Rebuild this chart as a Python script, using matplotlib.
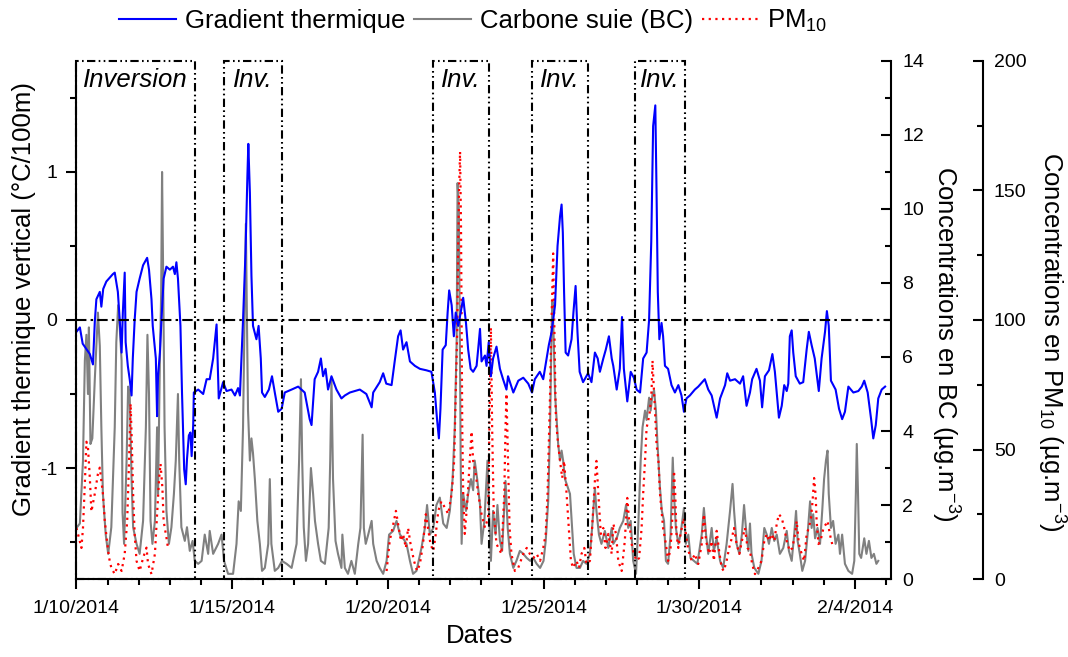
import numpy as np
import matplotlib
matplotlib.use("Agg")
import matplotlib.pyplot as plt
import matplotlib.dates as mdates
from matplotlib.patches import Rectangle
from matplotlib.ticker import MultipleLocator, FixedLocator

plt.rcParams['font.family'] = ['Liberation Sans', 'DejaVu Sans']
plt.rcParams['mathtext.fontset'] = 'custom'
plt.rcParams['mathtext.rm'] = 'Liberation Sans'
plt.rcParams['mathtext.it'] = 'Liberation Sans:italic'
plt.rcParams['axes.unicode_minus'] = False

# temps en jours depuis le 10/01/2014 00h
grad_t = [0.00, 0.11, 0.20, 0.43, 0.53, 0.59, 0.64, 0.75, 0.80, 0.86,
          0.96, 1.17, 1.23, 1.33, 1.39, 1.45, 1.49, 1.55, 1.58, 1.65,
          1.71, 1.77, 1.81, 1.87, 1.93, 2.03, 2.14, 2.27, 2.33, 2.41,
          2.45, 2.55, 2.59, 2.62, 2.68, 2.73, 2.80, 2.89, 3.00, 3.10,
          3.16, 3.21, 3.26, 3.34, 3.39, 3.46, 3.51, 3.55, 3.61, 3.66,
          3.70, 3.75, 3.77, 3.91, 4.07, 4.18, 4.28, 4.39, 4.50, 4.57,
          4.71, 4.82, 4.98, 5.09, 5.19, 5.25, 5.30, 5.35, 5.43, 5.49,
          5.52, 5.57, 5.62, 5.67, 5.78, 5.85, 5.92, 5.96, 6.05, 6.18,
          6.28, 6.37, 6.48, 6.59, 6.69, 6.91, 7.12, 7.33, 7.49, 7.55,
          7.65, 7.76, 7.85, 7.92, 8.00, 8.08, 8.19, 8.35, 8.51, 8.62,
          8.78, 9.10, 9.31, 9.48, 9.53, 9.74, 9.85, 9.95, 10.12, 10.22,
          10.33, 10.41, 10.49, 10.60, 10.71, 10.87, 11.03, 11.24, 11.40, 11.51,
          11.58, 11.64, 11.69, 11.76, 11.86, 11.92, 11.97, 12.05, 12.12, 12.18,
          12.26, 12.34, 12.42, 12.51, 12.58, 12.66, 12.74, 12.85, 12.90, 12.96,
          13.01, 13.12, 13.17, 13.24, 13.31, 13.38, 13.49, 13.60, 13.70, 13.81,
          13.86, 14.03, 14.19, 14.35, 14.51, 14.63, 14.72, 14.88, 14.99, 15.10,
          15.17, 15.26, 15.37, 15.45, 15.53, 15.58, 15.62, 15.66, 15.71, 15.79,
          15.90, 15.96, 16.03, 16.09, 16.16, 16.27, 16.43, 16.54, 16.65, 16.74,
          16.81, 16.92, 17.00, 17.10, 17.19, 17.24, 17.35, 17.45, 17.52, 17.58,
          17.69, 17.80, 17.90, 17.99, 18.10, 18.20, 18.31, 18.39, 18.46, 18.52,
          18.59, 18.63, 18.67, 18.72, 18.79, 18.84, 18.90, 19.00, 19.11, 19.22,
          19.33, 19.43, 19.51, 19.59, 19.70, 19.86, 19.97, 20.18, 20.29, 20.40,
          20.56, 20.67, 20.83, 20.90, 20.99, 21.15, 21.31, 21.41, 21.52, 21.63,
          21.70, 21.84, 21.95, 22.02, 22.11, 22.24, 22.35, 22.43, 22.49, 22.56,
          22.65, 22.73, 22.81, 22.86, 22.91, 22.97, 23.02, 23.10, 23.23, 23.34,
          23.45, 23.52, 23.61, 23.71, 23.84, 23.93, 24.04, 24.10, 24.16, 24.23,
          24.38, 24.49, 24.59, 24.68, 24.79, 24.95, 25.11, 25.22, 25.30, 25.41,
          25.52, 25.59, 25.67, 25.75, 25.86, 25.97]
grad_v = [-0.08, -0.05, -0.16, -0.23, -0.30, -0.01, 0.14, 0.19, 0.09, 0.21,
          0.26, 0.31, 0.32, 0.19, 0.00, -0.22, 0.05, 0.32, -0.15, -0.31,
          -0.40, -0.51, -0.26, 0.00, 0.19, 0.28, 0.37, 0.42, 0.34, 0.14,
          -0.04, -0.26, -0.65, -0.38, -0.22, 0.00, 0.28, 0.36, 0.34, 0.36,
          0.31, 0.39, 0.28, -0.04, -0.49, -1.01, -1.11, -0.94, -0.78, -0.76,
          -0.92, -0.71, -0.49, -0.47, -0.50, -0.40, -0.40, -0.26, -0.03, -0.53,
          -0.42, -0.48, -0.47, -0.51, -0.46, -0.51, -0.26, 0.00, 0.46, 0.97,
          1.19, 0.86, 0.30, -0.04, -0.13, -0.04, -0.26, -0.49, -0.52, -0.47,
          -0.38, -0.49, -0.62, -0.60, -0.49, -0.47, -0.45, -0.49, -0.67, -0.71,
          -0.40, -0.35, -0.26, -0.38, -0.33, -0.47, -0.38, -0.47, -0.53, -0.51,
          -0.49, -0.47, -0.50, -0.59, -0.49, -0.42, -0.36, -0.43, -0.44, -0.28,
          -0.11, -0.07, -0.20, -0.15, -0.28, -0.31, -0.33, -0.34, -0.35, -0.49,
          -0.67, -0.80, -0.60, -0.20, -0.17, 0.05, 0.20, 0.10, -0.11, 0.05,
          -0.04, 0.05, 0.15, -0.02, -0.20, -0.33, -0.35, -0.31, -0.20, -0.06,
          -0.28, -0.24, -0.31, -0.15, -0.38, -0.26, -0.18, -0.33, -0.40, -0.47,
          -0.38, -0.49, -0.41, -0.39, -0.43, -0.49, -0.40, -0.35, -0.40, -0.26,
          -0.17, -0.08, 0.10, 0.50, 0.70, 0.78, 0.59, 0.19, -0.22, -0.24,
          -0.13, 0.05, 0.23, -0.08, -0.35, -0.42, -0.36, -0.42, -0.22, -0.26,
          -0.35, -0.26, -0.20, -0.11, -0.26, -0.31, -0.47, -0.33, 0.02, -0.33,
          -0.55, -0.35, -0.39, -0.47, -0.49, -0.26, -0.22, 0.00, 0.53, 1.31,
          1.45, 0.86, 0.19, -0.13, -0.02, -0.11, -0.31, -0.33, -0.44, -0.49,
          -0.44, -0.51, -0.62, -0.53, -0.51, -0.47, -0.45, -0.40, -0.47, -0.51,
          -0.66, -0.53, -0.44, -0.36, -0.41, -0.40, -0.43, -0.38, -0.58, -0.49,
          -0.40, -0.33, -0.41, -0.59, -0.38, -0.34, -0.23, -0.35, -0.49, -0.66,
          -0.58, -0.44, -0.48, -0.43, -0.11, -0.07, -0.22, -0.38, -0.43, -0.42,
          -0.20, -0.08, -0.17, -0.26, -0.48, -0.26, -0.08, 0.06, -0.04, -0.41,
          -0.47, -0.60, -0.67, -0.62, -0.45, -0.49, -0.48, -0.45, -0.41, -0.49,
          -0.67, -0.80, -0.71, -0.53, -0.47, -0.45]

bc_t = [0.00, 0.11, 0.21, 0.27, 0.32, 0.37, 0.40, 0.45, 0.51, 0.59,
        0.69, 0.75, 0.80, 0.85, 0.94, 1.02, 1.12, 1.23, 1.28, 1.34,
        1.39, 1.45, 1.48, 1.53, 1.61, 1.66, 1.71, 1.77, 1.82, 1.93,
        2.03, 2.14, 2.23, 2.28, 2.33, 2.38, 2.44, 2.52, 2.59, 2.62,
        2.68, 2.72, 2.75, 2.78, 2.83, 2.89, 2.97, 3.05, 3.13, 3.19,
        3.26, 3.30, 3.37, 3.48, 3.55, 3.64, 3.73, 3.80, 3.91, 4.02,
        4.12, 4.23, 4.28, 4.39, 4.55, 4.66, 4.74, 4.87, 5.03, 5.14,
        5.21, 5.28, 5.35, 5.41, 5.44, 5.48, 5.51, 5.57, 5.62, 5.67,
        5.73, 5.81, 5.89, 5.96, 6.05, 6.16, 6.21, 6.26, 6.37, 6.48,
        6.60, 6.75, 6.91, 7.07, 7.15, 7.21, 7.25, 7.30, 7.37, 7.44,
        7.53, 7.60, 7.66, 7.76, 7.85, 7.98, 8.10, 8.15, 8.19, 8.24,
        8.32, 8.40, 8.51, 8.54, 8.62, 8.72, 8.83, 8.94, 9.05, 9.12,
        9.19, 9.23, 9.29, 9.37, 9.48, 9.53, 9.64, 9.74, 9.85, 9.96,
        10.04, 10.17, 10.28, 10.39, 10.49, 10.60, 10.71, 10.81, 10.92, 11.08,
        11.19, 11.26, 11.35, 11.46, 11.56, 11.67, 11.78, 11.89, 11.99, 12.08,
        12.15, 12.21, 12.24, 12.28, 12.31, 12.34, 12.37, 12.42, 12.51, 12.58,
        12.67, 12.74, 12.79, 12.87, 12.96, 13.01, 13.10, 13.20, 13.25, 13.31,
        13.38, 13.46, 13.52, 13.60, 13.67, 13.78, 13.85, 13.92, 14.03, 14.13,
        14.24, 14.35, 14.46, 14.57, 14.67, 14.78, 14.89, 15.00, 15.07, 15.15,
        15.21, 15.26, 15.29, 15.33, 15.37, 15.42, 15.47, 15.53, 15.58, 15.63,
        15.69, 15.77, 15.85, 15.92, 15.97, 16.06, 16.17, 16.27, 16.38, 16.49,
        16.56, 16.65, 16.70, 16.78, 16.86, 16.97, 17.08, 17.19, 17.24, 17.35,
        17.45, 17.56, 17.65, 17.72, 17.80, 17.88, 17.97, 18.04, 18.12, 18.18,
        18.26, 18.31, 18.39, 18.44, 18.50, 18.55, 18.61, 18.66, 18.74, 18.80,
        18.87, 18.93, 19.00, 19.08, 19.15, 19.19, 19.25, 19.33, 19.40, 19.51,
        19.57, 19.65, 19.72, 19.83, 19.94, 20.08, 20.15, 20.22, 20.29, 20.40,
        20.47, 20.56, 20.67, 20.77, 20.88, 20.99, 21.07, 21.12, 21.20, 21.29,
        21.37, 21.44, 21.50, 21.58, 21.63, 21.68, 21.77, 21.90, 22.00, 22.09,
        22.17, 22.24, 22.33, 22.41, 22.49, 22.59, 22.70, 22.81, 22.88, 22.97,
        23.05, 23.11, 23.16, 23.23, 23.31, 23.40, 23.48, 23.56, 23.61, 23.66,
        23.72, 23.80, 23.88, 23.95, 24.01, 24.07, 24.12, 24.16, 24.23, 24.30,
        24.38, 24.47, 24.52, 24.59, 24.68, 24.79, 24.91, 24.98, 25.03, 25.06,
        25.10, 25.14, 25.20, 25.30, 25.37, 25.45, 25.53, 25.61, 25.69, 25.75]
bc_v = [1.38, 1.50, 3.20, 5.90, 6.60, 5.00, 6.80, 3.65, 3.80, 5.40,
        7.20, 6.30, 4.10, 2.30, 1.20, 0.68, 1.40, 4.10, 6.40, 7.40,
        6.80, 5.90, 1.80, 0.95, 3.20, 5.20, 5.00, 2.70, 1.40, 0.95,
        0.68, 1.57, 4.10, 6.60, 5.00, 1.57, 0.95, 1.57, 4.10, 2.30,
        5.90, 7.70, 11.00, 8.60, 4.10, 1.84, 0.95, 1.40, 2.30, 3.20,
        5.00, 3.20, 1.40, 1.03, 1.40, 0.76, 1.03, 0.49, 0.41, 0.49,
        1.20, 0.68, 1.30, 0.68, 0.95, 1.20, 0.49, 0.14, 0.14, 0.95,
        2.10, 1.84, 4.10, 7.70, 9.60, 6.80, 4.55, 3.20, 3.80, 3.40,
        2.70, 1.57, 0.95, 0.22, 0.30, 0.95, 2.70, 0.95, 0.22, 0.30,
        0.49, 0.41, 0.30, 0.95, 3.20, 5.40, 3.20, 1.40, 0.49, 0.95,
        3.00, 2.30, 1.57, 0.95, 0.49, 0.41, 1.38, 3.20, 5.40, 2.70,
        1.03, 0.68, 0.30, 1.20, 0.30, 0.14, 0.49, 0.14, 0.95, 1.38,
        3.90, 1.38, 0.95, 1.20, 1.57, 0.95, 0.49, 0.30, 0.14, 0.49,
        1.20, 1.30, 1.57, 1.20, 1.10, 0.95, 0.49, 0.14, 0.22, 0.84,
        1.38, 2.00, 1.20, 1.38, 2.00, 2.20, 1.50, 1.38, 1.84, 2.70,
        4.10, 6.40, 10.70, 9.97, 6.80, 3.20, 0.95, 2.30, 1.84, 2.30,
        2.70, 2.40, 3.20, 2.70, 2.00, 0.95, 1.57, 3.20, 1.84, 0.49,
        1.84, 1.20, 2.00, 1.03, 0.76, 2.65, 1.38, 0.68, 0.30, 0.49,
        0.76, 0.68, 0.57, 0.49, 0.57, 0.41, 0.30, 0.49, 1.03, 2.10,
        4.10, 6.80, 7.50, 6.40, 5.00, 4.30, 3.65, 3.20, 3.47, 3.20,
        2.70, 2.50, 2.30, 1.38, 0.68, 0.30, 0.30, 0.49, 0.41, 0.68,
        1.38, 2.46, 1.84, 1.20, 0.95, 1.30, 0.84, 1.38, 0.95, 1.10,
        1.38, 1.57, 2.00, 1.38, 1.57, 0.49, 0.14, 1.38, 3.20, 4.10,
        4.55, 4.30, 4.90, 4.55, 5.00, 5.10, 4.55, 3.65, 2.46, 1.84,
        1.57, 0.49, 0.41, 1.20, 3.28, 2.30, 1.38, 0.95, 1.20, 1.92,
        0.95, 1.20, 0.57, 0.49, 0.41, 1.20, 1.92, 1.20, 0.68, 1.38,
        0.76, 1.10, 0.49, 0.30, 0.95, 1.84, 2.57, 1.84, 0.95, 0.68,
        1.20, 2.00, 1.38, 0.76, 1.50, 0.68, 0.30, 0.14, 0.49, 1.38,
        1.20, 0.95, 1.38, 1.03, 1.20, 0.68, 0.84, 1.30, 0.76, 0.49,
        1.20, 1.84, 1.03, 0.68, 0.22, 0.49, 1.20, 2.10, 1.38, 1.75,
        1.10, 1.38, 0.95, 1.84, 2.70, 3.20, 3.47, 2.30, 1.38, 1.57,
        0.95, 1.20, 0.68, 1.20, 0.41, 0.22, 0.14, 0.49, 2.30, 3.65,
        2.30, 0.68, 0.57, 1.10, 0.68, 1.03, 0.57, 0.68, 0.41, 0.49]

# PM10 : deux periodes de mesure (lacune du 13 au 20 janvier)
pm_t_a = [0.00, 0.05, 0.16, 0.21, 0.27, 0.32, 0.37, 0.43, 0.48, 0.59,
          0.69, 0.75, 0.80, 0.85, 0.91, 0.98, 1.05, 1.12, 1.23, 1.34,
          1.45, 1.55, 1.63, 1.69, 1.74, 1.78, 1.82, 1.87, 1.93, 2.03,
          2.14, 2.25, 2.30, 2.41, 2.52, 2.59, 2.65, 2.70, 2.76, 2.80,
          2.89, 2.94]
pm_v_a = [19.7, 17.4, 12.0, 19.7, 36.8, 53.0, 50.8, 39.0, 26.0, 33.0,
          40.6, 43.0, 37.9, 33.0, 22.4, 14.7, 8.1, 4.3, 1.9, 5.8,
          3.1, 9.7, 22.4, 45.6, 67.7, 52.0, 33.0, 17.4, 7.0, 3.1,
          8.1, 12.1, 5.8, 1.9, 9.7, 25.0, 38.0, 44.5, 35.3, 22.4,
          16.0, 12.0]
pm_t_b = [9.96, 10.06, 10.15, 10.26, 10.33, 10.42, 10.49, 10.58, 10.65, 10.73,
          10.84, 10.94, 11.03, 11.13, 11.22, 11.29, 11.37, 11.46, 11.54, 11.62,
          11.72, 11.83, 11.94, 12.05, 12.13, 12.18, 12.23, 12.26, 12.29, 12.32,
          12.35, 12.37, 12.39, 12.42, 12.47, 12.53, 12.58, 12.63, 12.69, 12.74,
          12.83, 12.90, 13.01, 13.12, 13.22, 13.28, 13.31, 13.35, 13.40, 13.49,
          13.65, 13.74, 13.78, 13.81, 13.86, 13.91, 13.97, 14.08, 14.19, 14.35,
          14.46, 14.56, 14.67, 14.78, 14.89, 14.99, 15.07, 15.13, 15.17, 15.21,
          15.24, 15.28, 15.31, 15.34, 15.37, 15.39, 15.42, 15.47, 15.53, 15.60,
          15.66, 15.74, 15.81, 15.88, 15.95, 16.06, 16.14, 16.22, 16.31, 16.38,
          16.49, 16.56, 16.65, 16.70, 16.76, 16.84, 16.92, 16.99, 17.08, 17.19,
          17.24, 17.33, 17.40, 17.51, 17.61, 17.69, 17.75, 17.83, 17.90, 17.99,
          18.07, 18.15, 18.20, 18.26, 18.31, 18.36, 18.42, 18.47, 18.50, 18.53,
          18.58, 18.63, 18.69, 18.74, 18.79, 18.84, 18.93, 19.00, 19.08, 19.15,
          19.19, 19.23, 19.27, 19.33, 19.40, 19.51, 19.57, 19.65, 19.76, 19.86,
          19.97, 20.08, 20.15, 20.22, 20.32, 20.40, 20.47, 20.56, 20.64, 20.72,
          20.79, 20.88, 20.96, 21.05, 21.12, 21.20, 21.29, 21.37, 21.47, 21.55,
          21.63, 21.70, 21.79, 21.90, 22.00, 22.09, 22.17, 22.24, 22.33, 22.41,
          22.49, 22.56, 22.65, 22.73, 22.81, 22.91, 22.99, 23.08, 23.13, 23.20,
          23.29, 23.37, 23.45, 23.52, 23.59, 23.64, 23.69, 23.74, 23.77, 23.83,
          23.90, 23.99, 24.06, 24.12, 24.16, 24.22, 24.27]
pm_v_b = [3.1, 14.7, 19.7, 26.3, 21.3, 14.7, 17.3, 12.0, 19.7, 13.5,
          7.0, 3.1, 5.8, 13.5, 25.0, 19.7, 13.5, 10.8, 17.4, 26.3,
          30.0, 27.6, 25.1, 33.0, 45.6, 71.6, 97.0, 129.6, 151.0, 165.0,
          136.0, 97.2, 58.4, 33.0, 17.4, 26.3, 35.2, 45.6, 57.0, 45.6,
          40.0, 33.0, 25.0, 19.8, 23.6, 71.6, 97.0, 58.4, 26.3, 13.5,
          9.7, 33.0, 58.4, 71.6, 45.6, 19.7, 9.7, 3.1, 4.4, 9.7,
          12.0, 9.7, 8.1, 9.7, 7.0, 12.0, 17.4, 33.0, 52.0, 71.6,
          91.0, 110.0, 125.7, 103.7, 84.3, 65.0, 58.4, 52.0, 45.6, 39.0,
          45.6, 33.0, 19.7, 7.0, 4.3, 7.0, 4.3, 9.7, 12.0, 5.8,
          7.0, 19.7, 38.0, 45.6, 33.0, 17.4, 19.7, 12.0, 17.4, 9.7,
          21.3, 17.4, 7.0, 3.1, 14.7, 31.3, 22.4, 13.5, 9.7, 7.0,
          8.1, 19.7, 33.0, 45.6, 58.4, 61.0, 65.0, 72.7, 84.3, 76.6,
          65.0, 52.0, 45.6, 33.0, 26.3, 19.7, 13.5, 7.0, 12.0, 26.3,
          41.8, 33.0, 17.4, 12.0, 17.4, 23.6, 17.4, 11.0, 7.0, 9.7,
          5.8, 13.5, 25.0, 14.7, 9.7, 14.7, 7.0, 18.6, 10.8, 4.3,
          3.1, 7.0, 12.0, 16.0, 19.7, 13.5, 9.7, 14.7, 19.7, 12.0,
          10.8, 5.8, 1.9, 4.3, 7.0, 14.7, 17.4, 14.7, 17.4, 14.7,
          21.3, 25.0, 23.6, 19.7, 14.7, 10.8, 12.0, 17.4, 22.4, 13.5,
          9.7, 7.0, 17.4, 19.7, 23.6, 30.0, 39.0, 32.0, 22.4, 13.5,
          15.0, 19.7, 21.0, 22.4, 19.7, 16.0, 13.5]

# periodes d'inversion (jours depuis le 10/01)
inv_start = [0.0, 4.75, 11.44, 14.62, 17.93]
inv_end = [3.80, 6.59, 13.24, 16.42, 19.54]
inv_text = ["Inversion", "Inv.", "Inv.", "Inv.", "Inv."]

tick_days = [0, 5, 10, 15, 20, 25]
tick_labels = ["1/10/2014", "1/15/2014", "1/20/2014", "1/25/2014", "1/30/2014", "2/4/2014"]

t0 = np.datetime64("2014-01-10T00:00:00")


def to_date(days):
    return t0 + (np.asarray(days, dtype=float) * 86400).astype("timedelta64[s]")


fig = plt.figure(figsize=(10.68, 6.57), dpi=100)
ax = fig.add_axes([0.0707, 0.1187, 0.7636, 0.7885])
ax_bc = ax.twinx()
ax_pm = ax.twinx()
ax_pm.spines['right'].set_position(('outward', 66))

# gradient au-dessus des concentrations
ax_bc.set_zorder(1)
ax_pm.set_zorder(2)
ax.set_zorder(3)
ax.patch.set_visible(False)

l_bc, = ax_bc.plot(to_date(bc_t), bc_v, color='#808080', lw=1.5)
l_pm, = ax_pm.plot(to_date(pm_t_a), pm_v_a, color='#ff0000', lw=1.6, ls=(0, (1, 2)))
ax_pm.plot(to_date(pm_t_b), pm_v_b, color='#ff0000', lw=1.6, ls=(0, (1, 2)))
l_gr, = ax.plot(to_date(grad_t), grad_v, color='#0000ff', lw=1.5)

ax.set_xlim(to_date(-0.03), to_date(26.16))
ax.set_ylim(-1.75, 1.75)
ax_bc.set_ylim(0, 14)
ax_pm.set_ylim(0, 200)

ax.axhline(0, color='k', lw=1.5, ls=(0, (5, 2, 1.2, 2)))

xs = mdates.date2num(to_date(inv_start))
xe = mdates.date2num(to_date(inv_end))
for a, b, txt in zip(xs, xe, inv_text):
    ax.add_patch(Rectangle((a, 0), b - a, 1, transform=ax.get_xaxis_transform(),
                           fill=False, ec='k', lw=1.5, ls=(0, (4, 1.6, 0.8, 1.6, 0.8, 1.6)),
                           clip_on=False, zorder=4))
    ax.text((a + b) / 2, 0.950, txt, transform=ax.get_xaxis_transform(),
            ha='center', va='baseline', style='italic', fontsize=18.5)

# axes et graduations
ax.set_xticks(to_date(tick_days))
ax.set_xticklabels(tick_labels)
ax.xaxis.set_minor_locator(mdates.DayLocator())
ax.yaxis.set_major_locator(FixedLocator([-1, 0, 1]))
ax.yaxis.set_minor_locator(MultipleLocator(0.5))
ax_bc.yaxis.set_major_locator(MultipleLocator(2))
ax_bc.yaxis.set_minor_locator(MultipleLocator(1))
ax_pm.yaxis.set_major_locator(MultipleLocator(50))
ax_pm.yaxis.set_minor_locator(MultipleLocator(25))

ax.tick_params(axis='both', which='major', direction='out', length=7, width=1.5, labelsize=14, pad=6)
ax.tick_params(axis='x', which='major', pad=8)
ax.tick_params(axis='both', which='minor', direction='out', length=4, width=1.5)
for a in (ax_bc, ax_pm):
    a.tick_params(axis='y', which='major', direction='in', length=7, width=1.5, labelsize=14, pad=8)
    a.tick_params(axis='y', which='minor', direction='in', length=4, width=1.5)

for sp in ('top', 'right'):
    ax.spines[sp].set_visible(False)
for a in (ax_bc, ax_pm):
    a.spines['top'].set_visible(False)
    a.spines['left'].set_visible(False)
    a.spines['bottom'].set_visible(False)
for a in (ax, ax_bc, ax_pm):
    for sp in a.spines.values():
        sp.set_linewidth(1.5)

ax.set_xlabel("Dates", fontsize=18.5)
ax.xaxis.set_label_coords(0.496, -0.086)
ax.set_ylabel("Gradient thermique vertical (°C/100m)", fontsize=18.5)
ax.yaxis.set_label_coords(-0.048, 0.54)
ax_bc.set_ylabel("Concentrations en BC (µg.m$^{-3}$)", fontsize=18.5, rotation=270, va='bottom')
ax_bc.yaxis.set_label_coords(1.046, 0.453)
ax_pm.set_ylabel("Concentrations en PM$_{10}$ (µg.m$^{-3}$)", fontsize=18.5, rotation=270, va='bottom')
ax_pm.yaxis.set_label_coords(1.176, 0.458)

fig.legend([l_gr, l_bc, l_pm], ["Gradient thermique", "Carbone suie (BC)", "PM$_{10}$"],
           loc='center', bbox_to_anchor=(0.4434, 0.968), ncol=3, frameon=False,
           fontsize=18.5, handlelength=2.2, handletextpad=0.35, columnspacing=0.35)

fig.savefig("out.png", dpi=100)
